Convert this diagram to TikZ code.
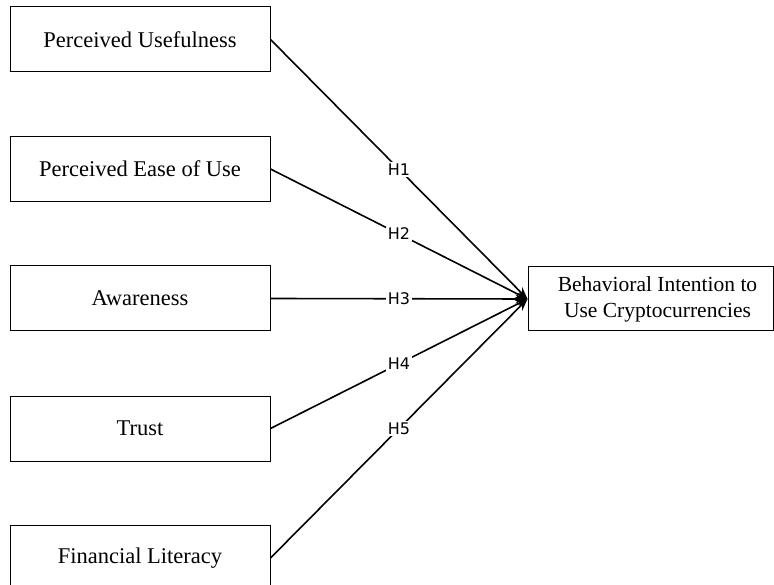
\documentclass[tikz,border=0pt]{standalone}
\usepackage{fontspec}
\setmainfont{Liberation Serif}
\newfontfamily\labfont{DejaVu Sans}
\usetikzlibrary{arrows.meta}
\begin{document}
\begin{tikzpicture}[x=1pt,y=-1pt,
  box/.style={draw,line width=1pt,minimum width=260pt,minimum height=65pt,inner sep=0pt,font=\fontsize{22.5}{26}\selectfont},
  link/.style={line width=1.6pt,-{Stealth[length=12pt,width=9pt]}},
  hlab/.style={fill=white,inner sep=1.5pt,font=\labfont\fontsize{16}{18}\selectfont}]
\useasboundingbox (0,0) rectangle (774,585);
\node[box] (pu) at (140,39.5) {Perceived Usefulness};
\node[box] (pe) at (140,169) {Perceived Ease of Use};
\node[box] (aw) at (140,298.5) {Awareness};
\node[box] (tr) at (140,428.5) {Trust};
\node[box] (fl) at (140,558) {Financial Literacy};
\node[box,minimum width=245pt,minimum height=64pt,align=center,font=\fontsize{21.5}{26}\selectfont] (bi) at (650.5,299) {\hspace*{14pt}Behavioral Intention to\\\hspace*{14pt}Use Cryptocurrencies};
\draw[link] (pu.east) -- node[hlab]{H1} (bi.west);
\draw[link] (pe.east) -- node[hlab]{H2} (bi.west);
\draw[link] (aw.east) -- node[hlab]{H3} (bi.west);
\draw[link] (tr.east) -- node[hlab]{H4} (bi.west);
\draw[link] (fl.east) -- node[hlab]{H5} (bi.west);
\end{tikzpicture}
\end{document}
